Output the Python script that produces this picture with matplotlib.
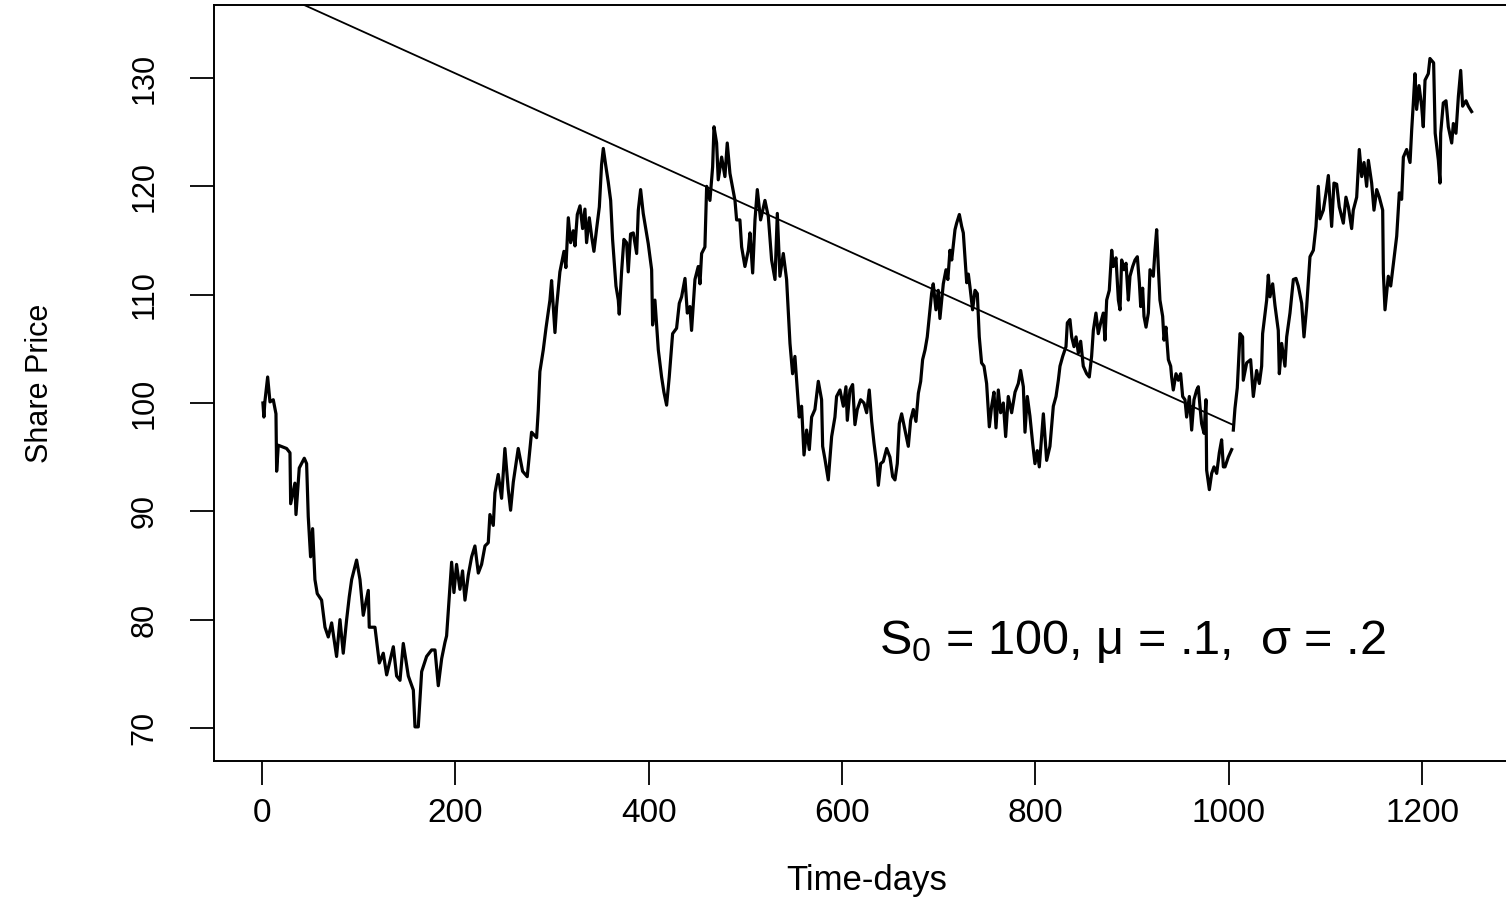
import matplotlib
matplotlib.use("Agg")
import matplotlib.pyplot as plt

plt.rcParams['font.family'] = ['Liberation Sans', 'DejaVu Sans']
plt.rcParams['mathtext.fontset'] = 'custom'
plt.rcParams['mathtext.rm'] = 'Liberation Sans'
plt.rcParams['mathtext.it'] = 'Liberation Sans:italic'
plt.rcParams['mathtext.default'] = 'regular'

# simulated share price path, first part (days 1..1003)
days1 = [1, 2, 3, 5.9, 8.3, 11.7, 14.5, 15.2, 16.9, 25.5, 29, 29.7, 34.1, 35.2, 38.6, 43.8, 46.2,
         47.9, 50.3, 52.4, 54.8, 57.2, 61.7, 65.2, 68.6, 72.1, 77.2, 80.7, 84.1, 87.6, 90.3, 92.8,
         97.9, 101.4, 104.8, 110, 111, 116.9, 121.4, 125.5, 129, 135.9, 139.3, 142.8, 146.2, 151.4,
         156.6, 158.3, 161.7, 165.2, 170.3, 175.5, 179, 182.4, 185.9, 189.3, 191,
         193.8, 196.2, 198.6, 201.3, 204.8, 207.5, 210, 213.4, 216.9, 220.3, 223.8, 227.2, 230.7,
         234.1, 235.8, 239.3, 241, 244.4, 247.9, 251.3, 254.8, 257.2, 260, 265.1, 269.6, 274.4,
         278.9, 284.1, 285.8, 287.5, 291, 293.8, 297.9, 299.6, 303.1, 304.8, 308.2, 312.4, 314.4,
         316.9, 319.3, 322, 323.8, 326.2, 329, 331.7, 334.1, 335.8, 338.6, 341, 343.4, 346.2, 349,
         351.3, 353.1, 355.5, 358.2, 360.7, 362.7, 366.2, 368.6, 369.6, 372, 374.4, 377.2, 378.9,
         381.3, 384.1, 387.6, 389.3, 391.7,
         394.4, 399.6, 403.1, 404.1, 406.5, 410, 413.4, 415.8, 418.6, 421.3, 424.8, 428.9, 431.7,
         434.1, 437.6, 440, 442.7, 444.4, 447.9, 451.3, 453.1, 454.8, 458.2, 460, 463.4, 466.2,
         467.6, 470.3, 472, 475.5, 478.9, 481.3, 484.1, 489.3, 491, 494.4, 496.2, 499.6, 503.1,
         504.8, 507.6, 510, 512.4, 515.8, 520.3, 523.8, 527.2, 530.7, 533.1, 535.8, 539.3, 542.7,
         546.2, 548.9, 551.3, 553.1, 555.8, 558.2, 560.7, 563.4, 566.2, 568.6, 572, 575.5, 578.9,
         580, 582.4, 585.8, 589.3, 592.7, 594.4, 597.9,
         601.4, 604.1, 605.5, 608.2, 611, 613.4, 615.8, 619.3, 622.7, 625.5, 628.2, 630.7, 633.1,
         635.8, 637.6, 640, 642.7, 646.2, 649.6, 652.4, 654.8, 657.2, 659.3, 661.7, 665.1, 668.6,
         671, 673.8, 676.5, 679, 681.4, 683.4, 685.9, 688.2, 690.3, 692.7, 694.4, 697.2, 699.6,
         701.3, 704.8, 707.6,
         709.5, 711.7, 713.5, 716.9, 718.6, 721.4, 723.8, 725.5, 727.2, 729, 730.7, 732.4,
         735.1, 737.6, 740, 742, 744.4, 746.9, 749.6, 752.4, 754.8, 757.2, 759.3, 761.7, 764.1,
         766.9, 769.3, 772, 775.5, 779, 782.4, 784.8, 787.6, 789.3, 791.7, 794.4, 797.2, 799.6,
         802, 804.1,
         808.3, 811.7, 815.1, 818.6, 821.4, 823.8, 825.5, 828.3, 831.7, 833.1, 835.8, 837.6, 840,
         842.1, 844.5, 846.9, 849.6, 853.1, 855.8, 858.2, 860, 862.7, 865.1, 867.6, 870.3, 872,
         873.8, 876.5, 879, 880.7, 883.4, 885.9, 887.6, 889.3, 891.7, 893.8, 896.2, 897.9, 900.7,
         903.1, 905.5, 907.6, 909, 911, 912.4, 914.5, 916.9, 918.6, 922, 923.8, 925.5, 927.2,
         928.9, 931.7, 933.1, 935.1, 937.6, 940, 941, 942.7, 945.5, 947.9, 950.3, 952.4, 954.8,
         956.5, 959.3, 961.7, 964.1, 966.9, 968.6, 970.3, 972, 974.5, 976.5, 977.2, 980, 982.4,
         984.8, 987.6, 990.3, 992.7, 994.5, 996.2, 999.6, 1003.1]
price1 = [100.0, 98.7, 100.1, 102.4, 100.1, 100.3, 99.0, 93.7, 96.1, 95.8, 95.4, 90.7, 92.6, 89.7,
          94.0, 94.9, 94.4, 89.5, 85.8, 88.4, 83.7, 82.4, 81.8, 79.3, 78.4, 79.7, 76.6, 80.0, 76.9,
          80.0, 82.1, 83.7, 85.5, 83.7, 80.4, 82.7, 79.3, 79.3, 76.0, 76.9, 74.9, 77.5, 74.8, 74.4,
          77.8, 74.8, 73.5, 70.1, 70.1, 75.2, 76.6, 77.2, 77.2, 73.9, 76.4, 77.9, 78.5,
          82.1, 85.3, 82.5, 85.1, 82.8, 84.5, 81.8, 84.1, 85.8, 86.8, 84.3, 85.1, 86.8,
          87.1, 89.7, 88.7, 91.7, 93.4, 91.2, 95.8, 92.0, 90.1, 92.7, 95.8, 93.7, 93.2,
          97.3, 96.8, 99.3, 102.9, 104.9, 106.9, 109.5, 111.3, 106.5, 108.9, 112.1, 114.0, 112.5,
          117.1, 114.8, 115.9, 114.5, 117.4, 118.2, 116.1, 117.9, 114.8, 117.1, 115.4, 114.0, 116.1,
          118.1, 122.0, 123.5, 122.0, 120.4, 118.7, 115.1, 110.8, 109.5, 108.2, 112.1, 115.1, 114.8,
          112.1, 115.6, 115.7, 113.8, 117.8, 119.7,
          117.5, 114.7, 112.3, 107.2, 109.5, 104.9, 102.4, 101.0, 99.8, 102.4, 106.4, 106.9, 109.2,
          109.8, 111.5, 108.3, 108.9, 106.7, 111.4, 112.6, 111.0, 113.8, 114.4, 120.0, 118.7, 121.8,
          125.5, 124.0, 120.6, 122.7, 120.9, 124.0, 121.2, 118.7, 116.9, 116.9, 114.4, 112.6, 114.1,
          115.7, 112.0, 116.9, 119.7, 116.9, 118.7, 117.2, 113.2, 111.4, 117.5, 111.7, 113.8, 111.4,
          105.5, 102.7, 104.3, 102.1, 98.7, 99.7, 95.2, 97.5, 95.7, 98.7, 99.4, 102.0, 100.3,
          96.0, 94.8, 92.9, 96.9, 98.7, 100.6, 101.2,
          99.7, 101.5, 98.4, 101.2, 101.7, 98.0, 99.4, 100.3, 100.0, 99.1, 101.2, 98.3, 96.3,
          94.4, 92.4, 94.4, 94.6, 95.8, 95.0, 93.2, 92.9, 94.4, 98.1, 99.0, 97.5, 96.0,
          98.4, 99.4, 98.3, 100.9, 102.0, 104.0, 104.9, 106.1, 108.0, 110.1, 111.0, 108.6, 110.4,
          107.8, 111.0, 112.3,
          111.4, 114.1, 113.2, 116.0, 116.6, 117.4, 116.3, 115.7, 113.5, 111.1, 111.9, 110.7,
          108.6, 110.4, 110.1, 106.1, 103.7, 103.4, 101.8, 97.8, 99.7, 101.0, 97.7, 101.2, 99.1,
          100.0, 96.9, 100.6, 99.1, 101.0, 101.8, 103.0, 101.5, 97.3, 100.6, 98.8, 96.3, 94.4,
          95.6, 94.1,
          99.0, 94.7, 96.0, 99.7, 100.6, 102.1, 103.4, 104.3, 105.2, 107.4, 107.7, 106.1, 105.2,
          106.1, 104.6, 105.7, 103.4, 102.7, 102.4, 104.3, 106.7, 108.3, 106.4, 107.4, 108.3, 105.8,
          109.5, 110.4, 114.1, 112.6, 113.4, 109.5, 108.6, 113.2, 112.3, 112.9, 109.5, 111.7, 112.6,
          113.2, 113.5, 111.1, 108.9, 110.6, 108.0, 107.0, 108.3, 112.3, 111.7, 114.1, 116.0, 112.6,
          109.5, 108.0, 105.8, 107.0, 104.0, 103.4, 102.4, 101.2, 102.7, 102.1, 102.7, 100.6, 100.3,
          98.7, 100.6, 97.5, 100.3, 101.2, 101.5, 99.7, 98.1, 97.2, 100.3, 93.8, 92.0, 93.5,
          94.1, 93.5, 95.4, 96.6, 94.1, 94.1, 95.0, 95.7]

# second part (days 1005..1251)
days2 = [1004.8, 1006.5, 1008.9, 1011.7, 1014.4, 1015.1, 1018.6, 1022.7, 1025.5, 1028.9, 1031.7,
         1034.1, 1035.1, 1039.3, 1041, 1042.7, 1045.5, 1047.9, 1051.3, 1052.4, 1054.8, 1058.2,
         1060, 1063.4, 1066.9, 1069.6, 1072, 1075.5, 1077.9, 1080.7, 1084.1, 1087.6, 1090.3,
         1092.7, 1094.4, 1097.9, 1100.7, 1103.1, 1106.5, 1108.9, 1111.7, 1114.4, 1118.6, 1121.3,
         1123.8, 1127.2, 1128.9, 1132.4, 1135.1, 1137.6, 1140, 1142.7, 1144.5, 1147.9, 1150.3,
         1153.1, 1155.8, 1159.3, 1160, 1161.7, 1165.1, 1167.6, 1170.3, 1173.8, 1176.5, 1178.9,
         1180.7, 1184.1, 1187.6, 1189.3, 1191, 1192.7, 1194.4, 1196.9, 1199.6, 1201.3, 1203.1,
         1206.5, 1208.2, 1212, 1213.6, 1216.9, 1218.6, 1219.3, 1222, 1224.8, 1227.2, 1230.7,
         1232.4, 1235.1, 1237.6, 1240, 1242, 1245.5, 1247.9, 1251.3]
price2 = [97.5, 99.5, 101.4, 106.4, 106.1, 102.1, 103.7, 104.0, 100.6, 103.0, 101.8,
          103.4, 106.4, 109.5, 111.8, 109.8, 111.0, 109.0, 106.7, 102.7, 105.5, 103.4,
          106.1, 108.3, 111.4, 111.5, 110.8, 109.2, 106.1, 108.9, 113.5, 114.1, 116.3,
          120.0, 117.0, 117.8, 119.4, 121.0, 116.3, 120.3, 120.2, 118.1, 116.6, 119.0,
          118.1, 116.1, 117.8, 119.0, 123.4, 120.9, 122.2, 120.0, 122.4, 120.3, 117.8,
          119.7, 119.0, 117.8, 112.0, 108.6, 111.7, 110.8, 112.8, 115.4, 119.4, 118.8,
          122.7, 123.4, 122.2, 125.2, 127.7, 130.4, 127.1, 129.3, 127.4, 125.5, 129.8,
          130.4, 131.8, 131.4, 124.9, 122.4, 120.3, 124.9, 127.7, 127.9, 125.5, 124.0,
          125.8, 124.9, 128.3, 130.7, 127.4, 127.9, 127.4, 126.9]

# straight trend line
trend_days = [0, 1004]
trend_price = [138.5, 98.0]

fig = plt.figure(figsize=(15.06, 9.01), dpi=100)
ax = fig.add_axes([214 / 1506, 140 / 901, 1304.7 / 1506, 756 / 901])

ax.plot(days1, price1, color='black', linewidth=2.3, solid_joinstyle='round')
ax.plot(days2, price2, color='black', linewidth=2.3, solid_joinstyle='round')
ax.plot(trend_days, trend_price, color='black', linewidth=1.3)

ax.set_xlim(-49.6, 1300)
ax.set_ylim(66.95, 136.74)

for s in ax.spines.values():
    s.set_linewidth(1.4)

ax.set_xticks([0, 200, 400, 600, 800, 1000, 1200])
ax.set_yticks([70, 80, 90, 100, 110, 120, 130])
ax.tick_params(direction='out', length=17.5, width=1.3)
ax.tick_params(axis='x', labelsize=24, pad=9)
ax.tick_params(axis='y', labelsize=22, pad=22, labelrotation=90)
for lab in ax.get_yticklabels():
    lab.set_fontfamily(['Liberation Sans Narrow', 'Liberation Sans'])
    lab.set_verticalalignment('center')

ax.set_xlabel('Time-days', fontsize=25)
ax.xaxis.set_label_coords(0.5, -0.136)
ax.set_ylabel('Share Price', fontsize=22, family=['Liberation Sans Narrow', 'Liberation Sans'])
ax.yaxis.set_label_coords(-0.1215, 0.5)

ax.text(638, 76.8, r'S$_0$ = 100, μ = .1,  σ = .2', fontsize=35,
        ha='left', va='baseline')

fig.savefig('out.png', dpi=100)
